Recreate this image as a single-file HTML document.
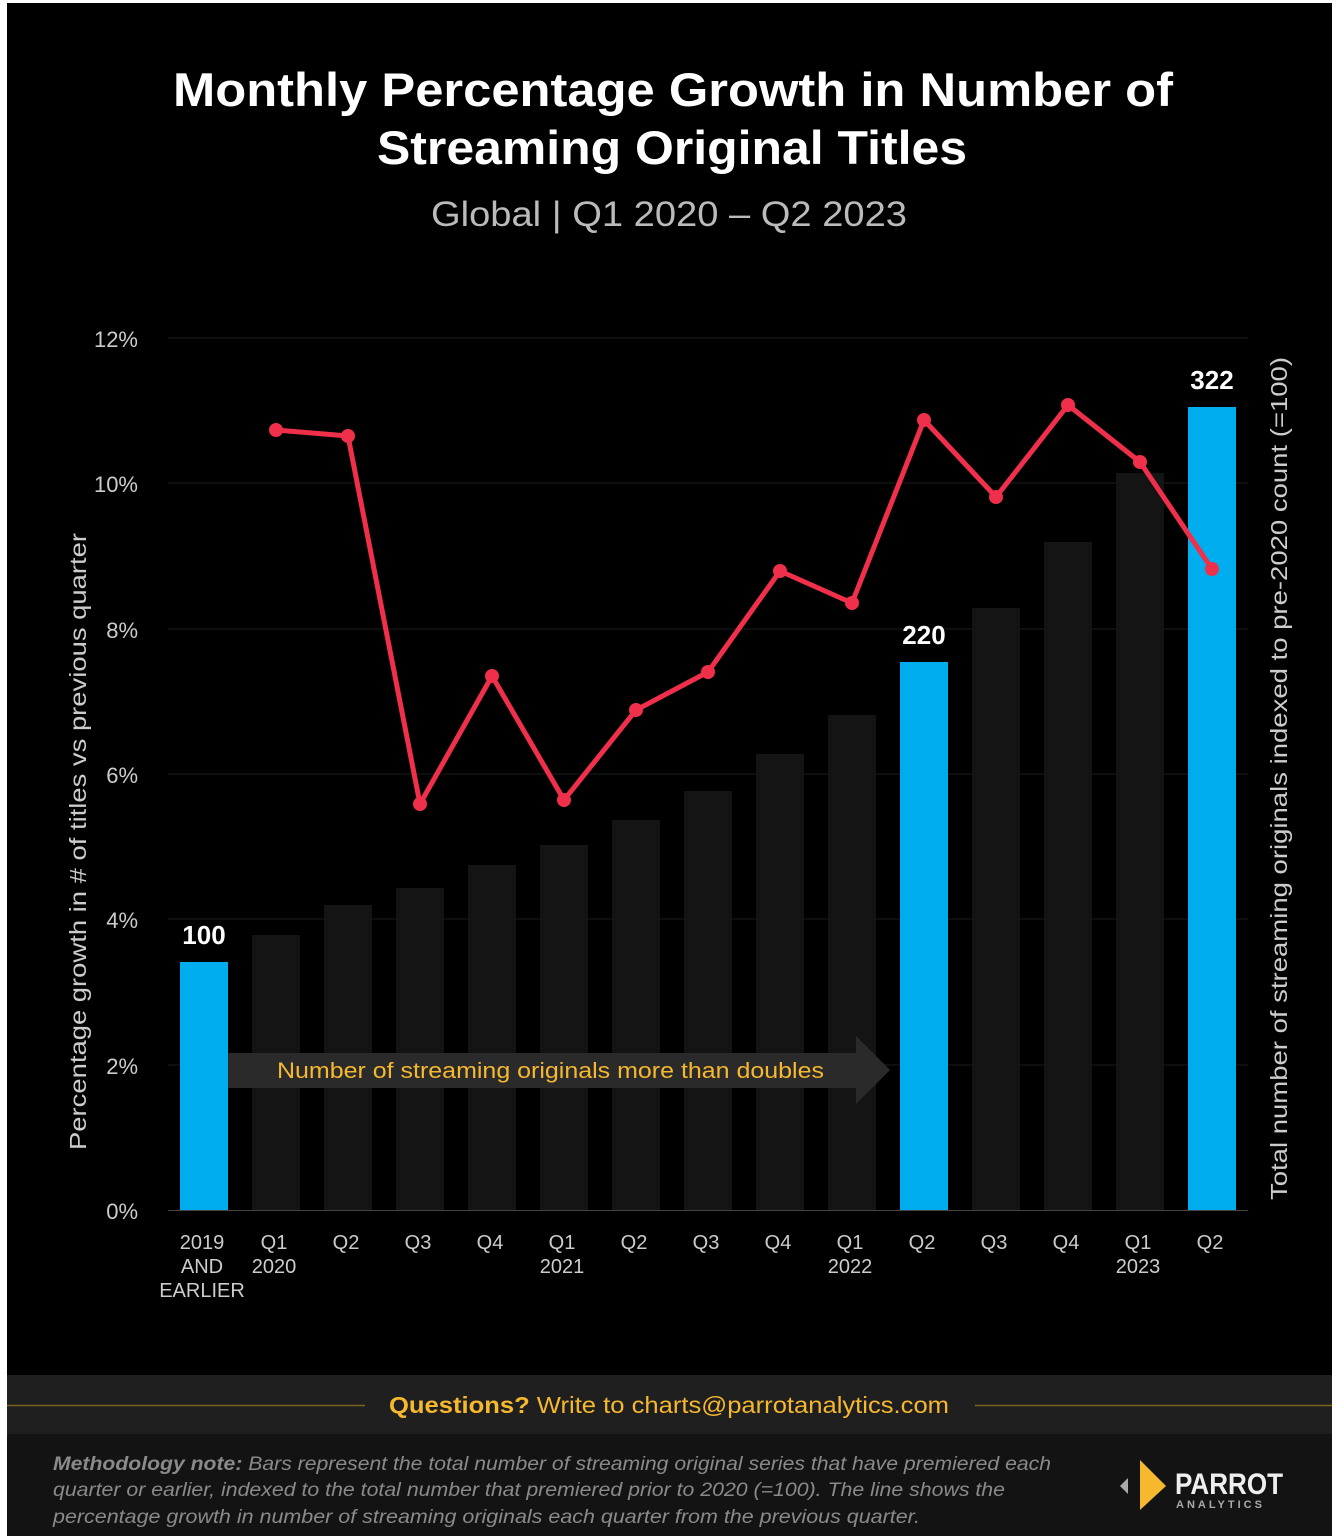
<!DOCTYPE html>
<html><head><meta charset="utf-8"><style>
body{margin:0;background:#fff;}
svg{display:block}
text{font-family:"Liberation Sans",sans-serif}
</style></head><body>
<svg width="1339" height="1539" viewBox="0 0 1339 1539" xmlns="http://www.w3.org/2000/svg">
<rect x="0" y="0" width="1339" height="1539" fill="#fff"/>
<rect x="7" y="3" width="1325" height="1533" fill="#000"/>
<text x="173" y="106" textLength="1000" lengthAdjust="spacingAndGlyphs" fill="#fff" font-size="47" font-weight="bold">Monthly Percentage Growth in Number of</text>
<text x="377" y="164" textLength="590" lengthAdjust="spacingAndGlyphs" fill="#fff" font-size="47" font-weight="bold">Streaming Original Titles</text>
<text x="431" y="226" textLength="476" lengthAdjust="spacingAndGlyphs" fill="#bbb" font-size="35">Global  |  Q1 2020 – Q2 2023</text>
<g stroke="#1c1c1c" stroke-width="1">
<line x1="168" y1="338" x2="1248" y2="338"/><line x1="168" y1="483" x2="1248" y2="483"/>
<line x1="168" y1="629" x2="1248" y2="629"/><line x1="168" y1="774" x2="1248" y2="774"/>
<line x1="168" y1="919" x2="1248" y2="919"/><line x1="168" y1="1065" x2="1248" y2="1065"/>
</g>
<g fill="#ccc" font-size="22" text-anchor="end">
<text x="138" y="347">12%</text><text x="138" y="492">10%</text><text x="138" y="638">8%</text>
<text x="138" y="783">6%</text><text x="138" y="928">4%</text><text x="138" y="1074">2%</text><text x="138" y="1219">0%</text>
</g>
<text transform="translate(86,1150) rotate(-90)" textLength="617" lengthAdjust="spacingAndGlyphs" fill="#ccc" font-size="23">Percentage growth in # of titles vs previous quarter</text>
<text transform="translate(1287,1200) rotate(-90)" textLength="843" lengthAdjust="spacingAndGlyphs" fill="#ccc" font-size="23">Total number of streaming originals indexed to pre-2020 count (=100)</text>
<g fill="#141414">
<rect x="252" y="935" width="48" height="275"/><rect x="324" y="905" width="48" height="305"/>
<rect x="396" y="888" width="48" height="322"/><rect x="468" y="865" width="48" height="345"/>
<rect x="540" y="845" width="48" height="365"/><rect x="612" y="820" width="48" height="390"/>
<rect x="684" y="791" width="48" height="419"/><rect x="756" y="754" width="48" height="456"/>
<rect x="828" y="715" width="48" height="495"/><rect x="972" y="608" width="48" height="602"/>
<rect x="1044" y="542" width="48" height="668"/><rect x="1116" y="473" width="48" height="737"/>
</g>
<g fill="#00aeef">
<rect x="180" y="962" width="48" height="248"/><rect x="900" y="662" width="48" height="548"/><rect x="1188" y="407" width="48" height="803"/>
</g>
<line x1="168" y1="1210.5" x2="1248" y2="1210.5" stroke="#444" stroke-width="1"/>
<g fill="#fff" font-size="26" font-weight="bold" text-anchor="middle">
<text x="204" y="944">100</text><text x="924" y="644">220</text><text x="1212" y="389">322</text>
</g>
<polygon points="228,1053 856,1053 856,1036 890,1070 856,1104 856,1088 228,1088" fill="#2a2a2a"/>
<text x="277" y="1078" textLength="547" lengthAdjust="spacingAndGlyphs" fill="#f5b82e" font-size="22">Number of streaming originals more than doubles</text>
<polyline points="276,430 348,436 420,804 492,676 564,800 636,710 708,672 780,571 852,603 924,420 996,497 1068,405 1140,462 1212,569" fill="none" stroke="#f0304a" stroke-width="5" stroke-linejoin="round"/>
<g fill="#f0304a">
<circle cx="276" cy="430" r="7"/><circle cx="348" cy="436" r="7"/><circle cx="420" cy="804" r="7"/><circle cx="492" cy="676" r="7"/><circle cx="564" cy="800" r="7"/><circle cx="636" cy="710" r="7"/><circle cx="708" cy="672" r="7"/><circle cx="780" cy="571" r="7"/><circle cx="852" cy="603" r="7"/><circle cx="924" cy="420" r="7"/><circle cx="996" cy="497" r="7"/><circle cx="1068" cy="405" r="7"/><circle cx="1140" cy="462" r="7"/><circle cx="1212" cy="569" r="7"/>
</g>
<g fill="#ccc" font-size="20" text-anchor="middle">
<text x="202" y="1249">2019</text><text x="202" y="1273">AND</text><text x="202" y="1297">EARLIER</text>
<text x="274" y="1249">Q1</text><text x="274" y="1273">2020</text>
<text x="346" y="1249">Q2</text><text x="418" y="1249">Q3</text><text x="490" y="1249">Q4</text>
<text x="562" y="1249">Q1</text><text x="562" y="1273">2021</text>
<text x="634" y="1249">Q2</text><text x="706" y="1249">Q3</text><text x="778" y="1249">Q4</text>
<text x="850" y="1249">Q1</text><text x="850" y="1273">2022</text>
<text x="922" y="1249">Q2</text><text x="994" y="1249">Q3</text><text x="1066" y="1249">Q4</text>
<text x="1138" y="1249">Q1</text><text x="1138" y="1273">2023</text>
<text x="1210" y="1249">Q2</text>
</g>
<rect x="7" y="1375" width="1325" height="59" fill="#1f1f1f"/>
<rect x="7" y="1434" width="1325" height="102" fill="#131313"/>
<line x1="7" y1="1405.5" x2="365" y2="1405.5" stroke="#7a6320" stroke-width="1.5"/>
<line x1="975" y1="1405.5" x2="1332" y2="1405.5" stroke="#7a6320" stroke-width="1.5"/>
<text x="389" y="1413" textLength="560" lengthAdjust="spacingAndGlyphs" fill="#f5b82e" font-size="23"><tspan font-weight="bold">Questions?</tspan> Write to charts@parrotanalytics.com</text>
<g fill="#8a8a8a" font-size="19" font-style="italic">
<text x="53" y="1470" textLength="998" lengthAdjust="spacingAndGlyphs"><tspan font-weight="bold">Methodology note:</tspan> Bars represent the total number of streaming original series that have premiered each</text>
<text x="53" y="1496" textLength="952" lengthAdjust="spacingAndGlyphs">quarter or earlier, indexed to the total number that premiered prior to 2020 (=100).  The line shows the</text>
<text x="53" y="1523" textLength="867" lengthAdjust="spacingAndGlyphs">percentage growth in number of streaming originals each quarter from the previous quarter.</text>
</g>
<polygon points="1128,1478 1128,1494 1120,1486" fill="#aaa"/>
<polygon points="1140,1460 1166,1486 1140,1510" fill="#f5b82e"/>
<text x="1175" y="1494" textLength="108" lengthAdjust="spacingAndGlyphs" fill="#eee" font-size="30" font-weight="bold">PARROT</text>
<text x="1176" y="1508" fill="#aaa" font-size="11" font-weight="bold" letter-spacing="3">ANALYTICS</text>
</svg>
</body></html>
